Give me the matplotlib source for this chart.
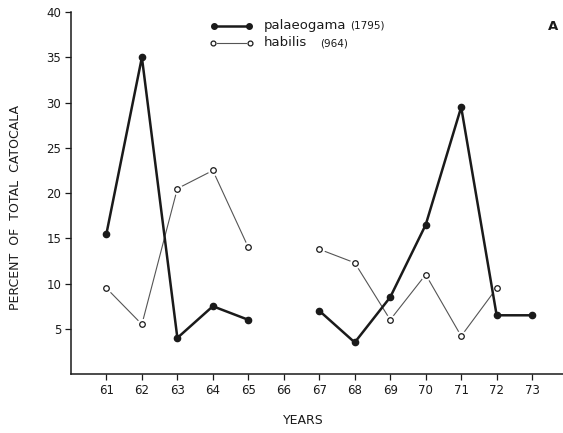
import numpy as np
import matplotlib
matplotlib.use("Agg")
import matplotlib.pyplot as plt

YEARS = [61, 62, 63, 64, 65, 66, 67, 68, 69, 70, 71, 72, 73]
PALAEOGAMA = [15.5, 35.0, 4.0, 7.5, 6.0, np.nan, 7.0, 3.5, 8.5, 16.5, 29.5, 6.5, 6.5]
HABILIS = [9.5, 5.5, 20.5, 22.5, 14.0, np.nan, 13.8, 12.3, 6.0, 11.0, 4.2, 9.5, np.nan]
Y_TICKS = [5, 10, 15, 20, 25, 30, 35, 40]

INK = "#1a1a1a"
FONT = "DejaVu Sans"

fig = plt.figure(figsize=(5.63, 4.33), dpi=100)
ax = fig.add_axes([0.126, 0.136, 0.874, 0.836])

# habilis: thin grey line, white halo under the open circles leaves a gap
ax.plot(YEARS, HABILIS, color="#555555", linewidth=0.8, zorder=2)
ax.plot(YEARS, HABILIS, linestyle="none", marker="o", markersize=7,
        markerfacecolor="white", markeredgecolor="white", zorder=3)
ax.plot(YEARS, HABILIS, linestyle="none", marker="o", markersize=4,
        markerfacecolor="white", markeredgecolor=INK, markeredgewidth=0.9, zorder=4)

# palaeogama: heavy black line with filled dots
ax.plot(YEARS, PALAEOGAMA, color=INK, linewidth=1.8, marker="o", markersize=4.5,
        markerfacecolor=INK, markeredgecolor=INK, zorder=5)

ax.set_xlim(60, 73.87)
ax.set_ylim(0, 40)
ax.set_xticks(YEARS)
ax.set_xticklabels([str(y) for y in YEARS], fontsize=8.5, family=FONT, color=INK)
ax.set_yticks(Y_TICKS)
ax.set_yticklabels([str(v) for v in Y_TICKS], fontsize=8.5, family=FONT, color=INK)
ax.tick_params(axis="both", direction="out", length=4, width=0.9, color=INK, pad=3)

for side in ("top", "right"):
    ax.spines[side].set_visible(False)
for side in ("left", "bottom"):
    ax.spines[side].set_color(INK)
    ax.spines[side].set_linewidth(1.1)

fig.text(0.027, 0.52, "PERCENT  OF  TOTAL  CATOCALA", rotation=90,
         ha="center", va="center", fontsize=9, family=FONT, color=INK)
fig.text(0.538, 0.028, "YEARS", ha="center", va="center",
         fontsize=9, family=FONT, color=INK)
fig.text(0.982, 0.938, "A", ha="center", va="center",
         fontsize=9.5, family=FONT, color=INK, fontweight="bold")

# legend drawn by hand
def fx(px):
    return px / 563


def fy(py):
    return 1 - py / 433


fig.add_artist(plt.Line2D([fx(214), fx(249)], [fy(26), fy(26)], transform=fig.transFigure,
                          color=INK, linewidth=1.8, marker="o", markersize=4,
                          markerfacecolor=INK))
fig.add_artist(plt.Line2D([fx(217), fx(246)], [fy(43), fy(43)], transform=fig.transFigure,
                          color="#555555", linewidth=0.8))
fig.add_artist(plt.Line2D([fx(213), fx(250)], [fy(43), fy(43)], transform=fig.transFigure,
                          linestyle="none", marker="o", markersize=3.5,
                          markerfacecolor="white", markeredgecolor=INK, markeredgewidth=0.9))
fig.text(fx(264), fy(26), "palaeogama", ha="left", va="center", fontsize=9.5,
         family=FONT, color=INK)
fig.text(fx(350), fy(26), "(1795)", ha="left", va="center", fontsize=7.5,
         family=FONT, color=INK)
fig.text(fx(264), fy(43), "habilis", ha="left", va="center", fontsize=9.5,
         family=FONT, color=INK)
fig.text(fx(320), fy(43), "(964)", ha="left", va="center", fontsize=7.5,
         family=FONT, color=INK)

fig.savefig("out.png", dpi=100)
